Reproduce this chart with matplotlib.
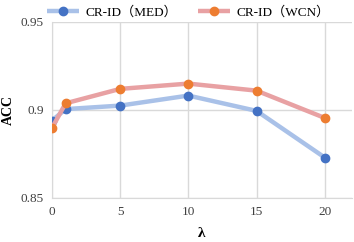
import matplotlib.pyplot as plt

lam = [0, 1, 5, 10, 15, 20]
acc_med = [0.8940, 0.9005, 0.9025, 0.9082, 0.8995, 0.8730]
acc_wcn = [0.8898, 0.9038, 0.9120, 0.9150, 0.9110, 0.8955]
labels = ['CR-ID（MED）', 'CR-ID（WCN）']
yticks = [0.85, 0.9, 0.95]
ytick_labels = ['0.85', '0.9', '0.95']
xticks = [0, 5, 10, 15, 20]

FONT = ['Liberation Serif', 'Noto Sans CJK SC']
plt.rcParams['font.family'] = FONT


def main():
    fig = plt.figure(figsize=(3.54, 2.42), dpi=100)
    ax = fig.add_axes([52 / 354, 1 - 198 / 242, 300 / 354, 176 / 242])

    ax.plot(lam, acc_med, color='#a9c1e8', linewidth=3.2, solid_capstyle='butt',
            marker='o', markersize=6, markerfacecolor='#4472c4',
            markeredgecolor='#4472c4', label=labels[0], zorder=3)
    ax.plot(lam, acc_wcn, color='#e8a1a3', linewidth=3.2, solid_capstyle='butt',
            marker='o', markersize=6, markerfacecolor='#ed7d31',
            markeredgecolor='#ed7d31', label=labels[1], zorder=3)

    ax.set_xlim(0, 22)
    ax.set_ylim(0.85, 0.95)
    ax.set_xticks(xticks)
    ax.set_yticks(yticks)
    ax.set_yticklabels(ytick_labels)
    ax.tick_params(length=0, labelsize=9.5, colors='#404040', pad=6)

    ax.grid(True, color='#d9d9d9', linewidth=1.0)
    ax.set_axisbelow(True)
    for side in ['top', 'right']:
        ax.spines[side].set_visible(False)
    ax.spines['left'].set_color('#d9d9d9')
    ax.spines['bottom'].set_color('#d9d9d9')

    ax.set_xlabel('λ', fontsize=11, fontweight='bold', labelpad=6)
    ax.set_ylabel('ACC', fontsize=10, fontweight='bold', labelpad=4)

    ax.legend(loc='lower center', bbox_to_anchor=(0.455, 0.99), ncol=2,
              frameon=False, fontsize=9.5, handlelength=2.4, columnspacing=1.6,
              borderaxespad=0, handletextpad=0.5)

    fig.savefig('out.png', dpi=100)


if __name__ == "__main__":
    main()
